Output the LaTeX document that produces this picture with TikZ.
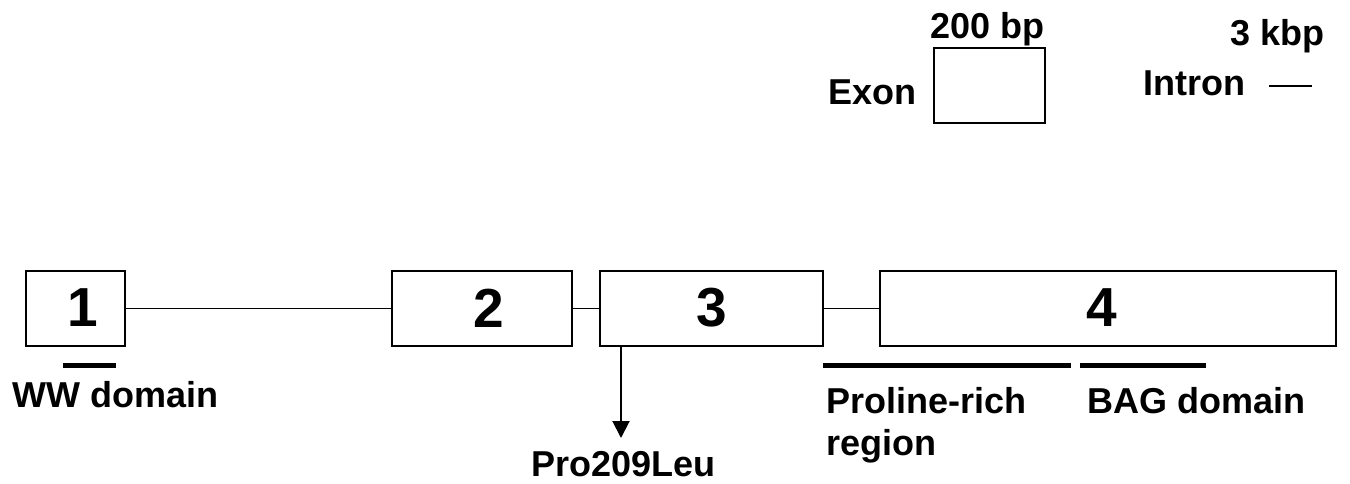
\documentclass[tikz,border=0pt]{standalone}
\usepackage{fontspec}
\setmainfont{Liberation Sans}
\usetikzlibrary{arrows.meta}
\begin{document}
\begin{tikzpicture}[x=1pt,y=-1pt,
  exon/.style={draw,line width=2pt,minimum height=75pt,inner sep=0pt},
  exnum/.style={inner sep=0pt,font=\fontsize{55}{60}\selectfont\bfseries},
  intron/.style={line width=1.5pt},
  domainbar/.style={line width=5pt},
  lbl/.style={anchor=base west,inner sep=0pt,font=\fontsize{36}{42}\selectfont\bfseries}]
\useasboundingbox (0,0) rectangle (1350,483);

% gene model: exons
\node[exon,minimum width=99pt]  (e1) at (75.5,308.5)  {};
\node[exon,minimum width=180pt] (e2) at (482,308.5)   {};
\node[exon,minimum width=223pt] (e3) at (711.5,308.5) {};
\node[exon,minimum width=456pt] (e4) at (1108,308.5)  {};
\node[exnum] (n1) at (83,308)   {1};
\node[exnum] (n2) at (489,308)  {2};
\node[exnum] (n3) at (712,308)  {3};
\node[exnum] (n4) at (1102,308) {4};

% introns
\draw[intron] (e1.east) -- (e2.west);
\draw[intron] (e2.east) -- (e3.west);
\draw[intron] (e3.east) -- (e4.west);

% protein domains
\coordinate (ww1) at (63,365);   \coordinate (ww2) at (116,365);
\coordinate (pr1) at (823,365);  \coordinate (pr2) at (1071,365);
\coordinate (bag1) at (1080,365);\coordinate (bag2) at (1206,365);
\draw[domainbar] (ww1) -- (ww2);
\draw[domainbar] (pr1) -- (pr2);
\draw[domainbar] (bag1) -- (bag2);
\node[lbl] (ww) at (12,407) {WW domain};
\node[lbl] (pr) at (826,413) {Proline-rich};
\node[lbl] (rg) at (826,455) {region};
\node[lbl] (bag) at (1087,413) {BAG domain};

% mutation
\coordinate (mut) at (621,346);
\coordinate (muttip) at (621,438);
\draw[line width=2pt,-{Triangle[width=17pt,length=17pt]}] (mut) -- (muttip);
\node[lbl] (pro) at (531,476) {Pro209Leu};

% legend
\node[draw,line width=2pt,minimum width=111pt,minimum height=75pt,inner sep=0pt] (lex) at (989.5,85.5) {};
\node[lbl] (lexon) at (828,104) {Exon};
\node[lbl] (lbp) at (930,38) {200 bp};
\node[lbl] (lint) at (1143,95) {Intron};
\node[lbl] (lkb) at (1230,45) {3 kbp};
\coordinate (li1) at (1269,86); \coordinate (li2) at (1312,86);
\draw[intron] (li1) -- (li2);
\end{tikzpicture}
\end{document}
